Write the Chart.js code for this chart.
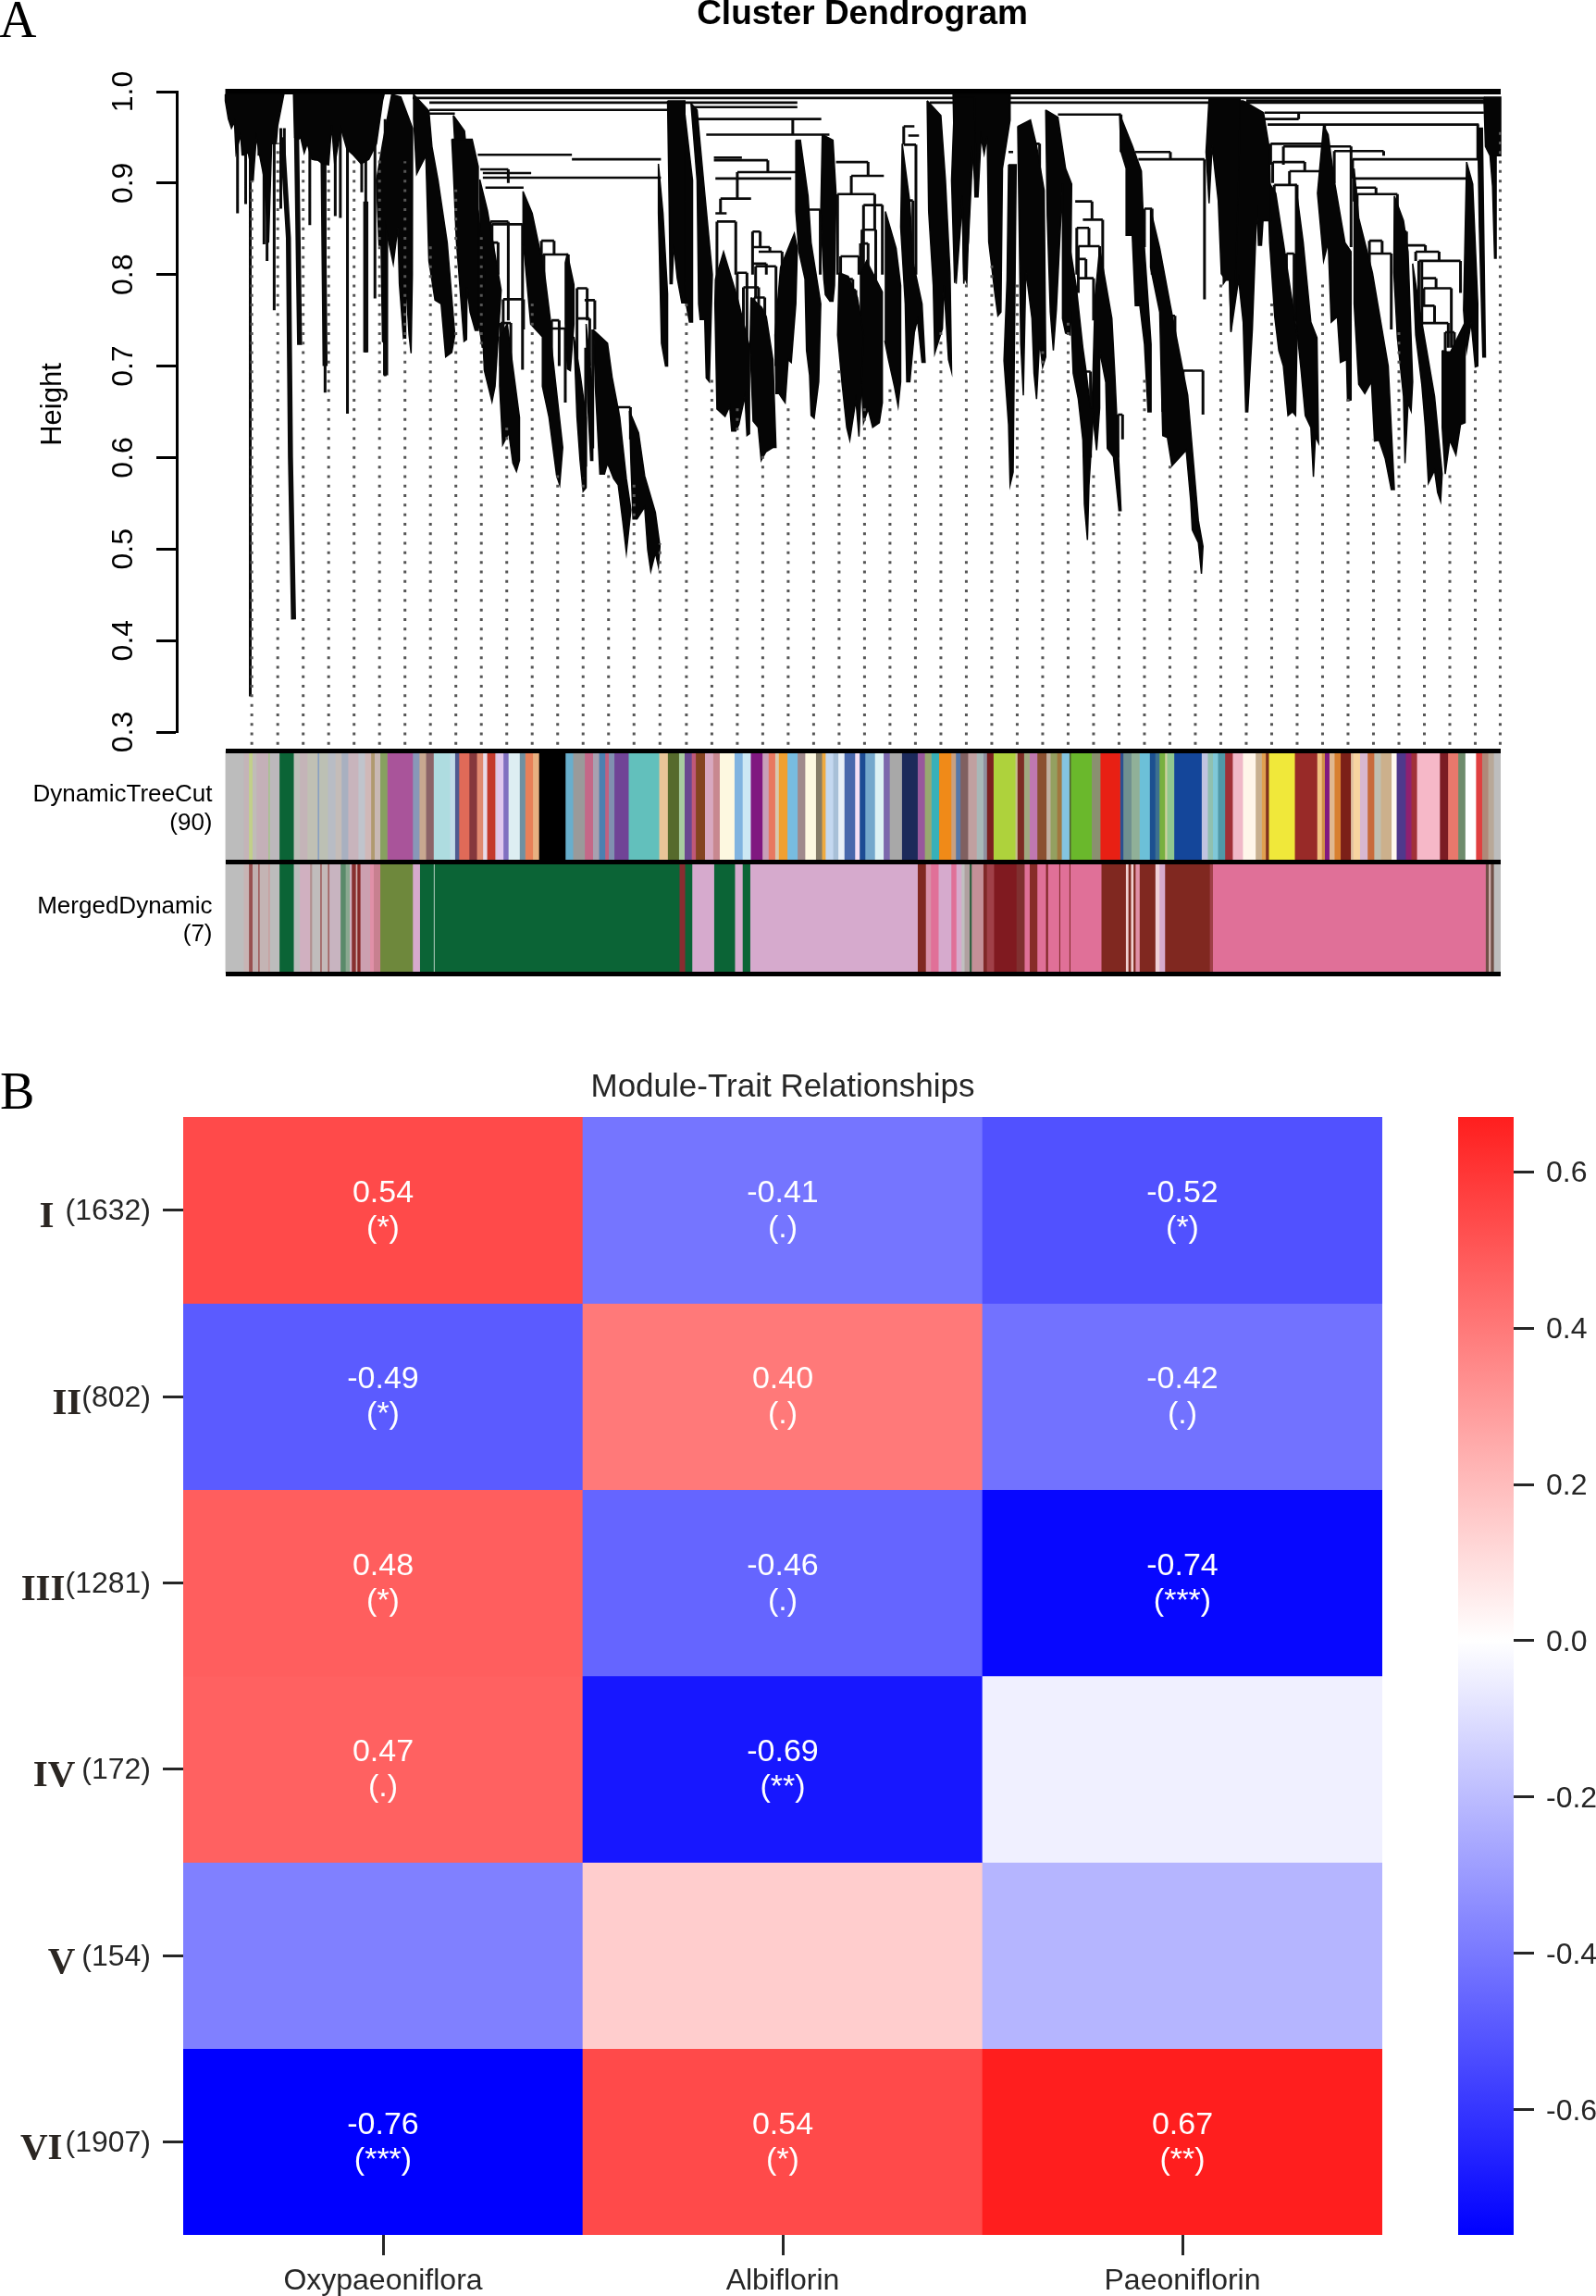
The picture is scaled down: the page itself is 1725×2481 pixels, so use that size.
<!DOCTYPE html>
<html>
<head>
<meta charset="utf-8">
<title>Cluster Dendrogram</title>
<script src="https://cdn.jsdelivr.net/npm/chart.js@4"></script>
<style>
html, body { margin: 0; padding: 0; background: #fff; overflow: hidden; }
#page { position: relative; width: 1725px; height: 2481px; overflow: hidden; }
canvas { position: absolute; }
</style>
</head>
<body>
<div id="page">
  <canvas id="treeChart" style="left:0;top:0"></canvas>
  <canvas id="bandChart" style="left:0;top:751px"></canvas>
  <canvas id="heatChart" style="left:0;top:1154px"></canvas>
  <canvas id="scaleChart" style="left:1500px;top:1154px"></canvas>
</div>
<script>
// dendrogram, x = gene order (0-2506), y = height
const heightTicks = [0.3, 0.4, 0.5, 0.6, 0.7, 0.8, 0.9, 1.0];
const guideX = [52,103,153,203,253,303,353,403,453,503,553,603,653,703,753,803,854,906,956,1006,1056,1106,
  1156,1206,1256,1306,1356,1406,1456,1506,1556,1606,1656,1706,1756,1806,1856,1906,1956,2006,2056,2106,2156,2206,2256,2306,2356,2406,2456,2505];
const guideTop = [.903,.944,.929,.919,.929,.934,.924,.836,.893,.841,.635,.769,.583,.578,.583,.573,.506,.769,.687,.661,.604,.661,
  .635,.697,.661,.676,.712,.738,.79,.81,.795,.718,.748,.583,.542,.687,.594,.48,.795,.65,.774,.635,.795,.666,.62,.738,.573,.583,.702,.96];

// where the leaves pack solid black: outlines of the merged branches, [order, height]
const treeMasses = [
  [[0,.997],[0,.99],[6,.97],[12,.96],[18,.967],[21,.933],[30,.953],[33,.931],[45,.933],[55,.906],[61,.95],[70,.923],[76,.906],[85,.835],[91,.943],[100,.943],[103,.963],[115,.997]],
  [[134,.997],[136,.95],[142,.947],[148,.95],[155,.933],[161,.943],[170,.926],[182,.925],[191,.921],[203,.92],[209,.963],[215,.92],[227,.96],[239,.937],[251,.931],[267,.921],[282,.926],[297,.943],[309,.99],[312,.997]],
  [[327,.997],[345,.994],[368,.96],[367,.835],[368,.80],[365,.714],[361,.734],[354,.80],[354,.734],[350,.731],[342,.79],[339,.852],[330,.812],[315,.852],[315,.724],[309,.727],[306,.832],[302,.832],[297,.903],[309,.943]],
  [[370,.997],[400,.979],[406,.94],[418,.903],[436,.835],[451,.734],[445,.715],[433,.71],[424,.768],[412,.772],[400,.815],[394,.93],[376,.91],[370,.97]],
  [[445,.948],[485,.948],[497,.918],[497,.739],[491,.739],[481,.759],[475,.786],[474,.729],[469,.727],[461,.786],[454,.837],[448,.914]],
  [[448,.974],[470,.957],[479,.903],[497,.869],[509,.802],[505,.72],[500,.74],[485,.76],[470,.85],[455,.90]],
  [[500,.904],[515,.87],[542,.783],[530,.678],[524,.661],[509,.695],[502,.779]],
  [[539,.732],[554,.746],[578,.644],[578,.597],[572,.585],[565,.594],[557,.627],[545,.614],[539,.678]],
  [[585,.891],[603,.867],[627,.803],[639,.749],[639,.732],[663,.611],[657,.570],[651,.580],[636,.644],[623,.678],[623,.732],[600,.746],[586,.833]],
  [[672,.823],[685,.789],[685,.746],[678,.695],[672,.697],[668,.746],[668,.813]],
  [[685,.732],[697,.692],[709,.644],[709,.567],[703,.563],[697,.597],[691,.644]],
  [[709,.746],[721,.678],[722,.597],[718,.597],[712,.661]],
  [[724,.739],[751,.725],[760,.688],[775,.644],[788,.577],[797,.543],[788,.496],[781,.530],[772,.570],[763,.577],[751,.594],[745,.582],[736,.582],[727,.678]],
  [[794,.651],[812,.627],[824,.580],[845,.540],[854,.503],[851,.481],[845,.496],[836,.476],[830,.499],[824,.546],[809,.533],[801,.533],[797,.594]],
  [[851,.921],[860,.867],[869,.779],[869,.700],[865,.700],[857,.725],[851,.867]],
  [[869,.99],[903,.99],[903,.769],[897,.769],[888,.796],[881,.833],[878,.79],[874,.79],[872,.88]],
  [[900,.99],[918,.903],[918,.748],[912,.748],[903,.775],[900,.936]],
  [[915,.987],[927,.98],[933,.943],[942,.889],[957,.80],[951,.683],[945,.687],[942,.751],[933,.751],[930,.768],[927,.903]],
  [[963,.795],[979,.825],[1006,.775],[1030,.721],[1030,.626],[1025,.624],[1021,.667],[1009,.636],[1003,.629],[995,.629],[991,.656],[982,.645],[966,.653],[962,.768]],
  [[1033,.775],[1054,.764],[1063,.754],[1076,.707],[1082,.611],[1076,.611],[1070,.609],[1062,.606],[1053,.597],[1047,.633],[1037,.64],[1031,.724]],
  [[1121,.947],[1130,.947],[1145,.886],[1151,.835],[1170,.768],[1166,.683],[1157,.643],[1151,.646],[1148,.69],[1142,.717],[1139,.795],[1127,.825],[1121,.869]],
  [[1091,.808],[1118,.845],[1124,.829],[1121,.768],[1112,.704],[1106,.707],[1100,.66],[1096,.663],[1088,.67],[1082,.67],[1080,.734]],
  [[1173,.953],[1194,.947],[1200,.889],[1197,.788],[1194,.771],[1188,.771],[1179,.778],[1176,.795],[1170,.869]],
  [[1206,.802],[1224,.798],[1242,.775],[1254,.734],[1245,.623],[1239,.663],[1227,.619],[1221,.633],[1212,.68],[1203,.734]],
  [[1248,.802],[1260,.815],[1291,.781],[1291,.66],[1285,.638],[1272,.633],[1263,.653],[1254,.638],[1248,.70]],
  [[1297,.869],[1318,.829],[1327,.788],[1327,.683],[1322,.656],[1315,.677],[1303,.707],[1296,.727]],
  [[1330,.943],[1345,.879],[1351,.815],[1369,.768],[1375,.704],[1369,.704],[1360,.751],[1354,.737],[1345,.683],[1339,.683],[1336,.768],[1327,.852]],
  [[1379,.99],[1406,.974],[1415,.903],[1424,.802],[1427,.694],[1421,.707],[1412,.788],[1409,.741],[1394,.714],[1391,.788],[1382,.869]],
  [[1433,.994],[1472,.994],[1476,.886],[1466,.94],[1457,.791],[1451,.80],[1448,.886],[1433,.791],[1427,.903]],
  [[1430,.997],[1542,.997],[1542,.969],[1527,.916],[1524,.759],[1518,.755],[1512,.78],[1500,.836],[1497,.951],[1491,.932],[1485,.95],[1479,.885],[1473,.885],[1470,.948],[1460,.836],[1451,.79],[1448,.878],[1436,.79],[1433,.916]],
  [[1539,.92],[1554,.92],[1548,.584],[1542,.57],[1539,.636],[1530,.706],[1536,.794]],
  [[1557,.962],[1582,.969],[1594,.941],[1609,.892],[1612,.71],[1606,.699],[1600,.727],[1594,.664],[1589,.692],[1585,.752],[1573,.804],[1568,.668],[1563,.724],[1560,.846]],
  [[1612,.98],[1636,.972],[1651,.916],[1663,.899],[1660,.734],[1651,.736],[1645,.752],[1645,.899],[1633,.762],[1627,.717],[1621,.759],[1615,.864]],
  [[1660,.829],[1672,.787],[1685,.72],[1691,.696],[1700,.654],[1706,.65],[1697,.57],[1694,.51],[1688,.549],[1685,.619],[1676,.664],[1666,.692],[1660,.776]],
  [[1718,.829],[1742,.752],[1748,.689],[1760,.542],[1756,.542],[1745,.601],[1733,.61],[1730,.682],[1718,.717],[1718,.654],[1712,.608],[1703,.654],[1709,.776]],
  [[1757,.976],[1782,.941],[1800,.913],[1806,.829],[1819,.724],[1819,.65],[1813,.65],[1806,.724],[1797,.766],[1788,.766],[1782,.843],[1770,.843],[1770,.916],[1760,.934]],
  [[1818,.871],[1836,.829],[1857,.766],[1891,.668],[1912,.531],[1921,.503],[1918,.473],[1912,.507],[1900,.521],[1897,.552],[1888,.608],[1860,.591],[1851,.622],[1842,.624],[1839,.689],[1836,.759],[1818,.808]],
  [[1933,.993],[1994,.993],[1991,.899],[1985,.794],[1976,.738],[1973,.794],[1966,.794],[1957,.801],[1951,.881],[1939,.941],[1933,.878],[1927,.934]],
  [[1958,.99],[2000,.99],[2040,.977],[2052,.936],[2054,.859],[2039,.859],[2036,.832],[2030,.832],[2027,.876],[2018,.74],[2009,.65],[2005,.65],[2000,.748],[1991,.795],[1976,.737],[1973,.8],[1961,.79]],
  [[2048,.903],[2064,.889],[2079,.835],[2106,.734],[2103,.646],[2097,.65],[2088,.646],[2079,.70],[2070,.717],[2062,.754],[2052,.835]],
  [[2103,.899],[2118,.835],[2133,.748],[2145,.731],[2148,.616],[2142,.623],[2138,.579],[2133,.633],[2122,.646],[2114,.694],[2103,.754]],
  [[2158,.963],[2167,.953],[2179,.903],[2200,.835],[2212,.825],[2212,.663],[2205,.662],[2203,.707],[2191,.704],[2185,.754],[2173,.748],[2167,.835],[2158,.815],[2146,.889]],
  [[2218,.916],[2227,.862],[2254,.802],[2285,.70],[2297,.565],[2291,.565],[2279,.599],[2267,.619],[2258,.618],[2252,.683],[2239,.67],[2227,.68],[2218,.768]],
  [[2297,.886],[2315,.859],[2324,.825],[2333,.683],[2330,.651],[2324,.66],[2318,.594],[2315,.667],[2303,.731],[2296,.802]],
  [[2333,.812],[2345,.768],[2376,.667],[2391,.582],[2388,.552],[2382,.562],[2376,.586],[2364,.572],[2358,.633],[2351,.68],[2339,.734]],
  [[2391,.717],[2406,.714],[2436,.748],[2436,.638],[2427,.636],[2418,.603],[2406,.619],[2397,.582],[2391,.633]],
  [[2439,.923],[2451,.899],[2461,.768],[2461,.70],[2456,.699],[2448,.748],[2439,.717],[2433,.761]],
  [[2461,.96],[2470,.96],[2476,.71],[2471,.71],[2464,.852]],
  [[2473,.994],[2506,.994],[2506,.93],[2497,.93],[2497,.818],[2494,.818],[2490,.896],[2485,.93],[2476,.94]]
];

// single branches and verticals that stand clear, [order, top, bottom]
const treeDrops = [
  [24,.98,.867],[36,.98,.93],[40,.98,.877],[49,.97,.339],[53,.98,.903],[66,.97,.93],[76,.96,.833],[82,.96,.815],
  [96,.96,.761],[109,.96,.872],[116,.96,.925],[166,.97,.854],[176,.97,.925],[196,.96,.671],[216,.96,.864],[226,.96,.862],[240,.96,.648],[268,.97,.89],[276,.96,.715],
  [294,.96,.774],[314,.97,.689],[346,.97,.79],[353,.96,.73],
  [524,.855,.83],[584,.855,.696],[556,.915,.90],[646,.837,.822],[674,.822,.75],[626,.822,.75],[711,.785,.75],[708,.72,.59],[722,.74,.61],[741,.72,.585],[754,.70,.59],
  [546,.773,.73],[561,.747,.62],[641,.75,.68],[668,.741,.66],
  [521,.858,.84],[556,.858,.75],[526,.835,.80],[536,.835,.80],[586,.773,.74],[541,.747,.70],[621,.837,.80],[691,.785,.70],[726,.772,.74],[691,.752,.70],[716,.752,.70],[656,.75,.70],[771,.655,.62],[796,.655,.62],
  [1115,.97,.953],[1066,.925,.912],[1006,.912,.883],[973,.883,.867],[1003,.858,.80],[966,.858,.79],[1263,.923,.908],[1230,.908,.888],[1333,.962,.942],[1357,.942,.80],[1254,.876,.80],[1291,.876,.80],[1276,.888,.849],[1203,.888,.80],
  [1036,.847,.80],[1051,.847,.83],[1070,.83,.825],[1094,.825,.808],[1063,.812,.80],[1082,.809,.70],[1042,.809,.775],[1060,.775,.74],[1039,.775,.72],
  [1018,.786,.70],[1048,.786,.72],[1025,.802,.72],[1006,.802,.72],[1251,.849,.80],[1278,.849,.78],[1248,.834,.80],[1263,.834,.80],[1209,.82,.80],[1245,.82,.80],[1218,.795,.75],[1233,.795,.75],[1227,.783,.72],[1239,.783,.72],[1336,.881,.80],[1351,.881,.81],[1145,.871,.80],[1169,.871,.80],
  [1760,.975,.934],[1857,.934,.926],[1924,.926,.773],[1703,.88,.86],[1724,.86,.78],[1697,.851,.831],[1691,.817,.796],[1706,.796,.75],[1921,.695,.647],[1763,.647,.62],
  [1673,.851,.80],[1676,.831,.78],[1718,.831,.80],[1688,.694,.60],[1700,.694,.60],[1754,.647,.60],[1842,.755,.65],[1866,.755,.70],[1882,.695,.66],[1806,.872,.83],[1821,.872,.80],[1585,.943,.90],[1600,.943,.90],
  [2109,.977,.97],[2160,.964,.943],[2276,.935,.93],[2121,.923,.913],[2091,.913,.898],[2261,.895,.888],[2385,.825,.815],[2427,.815,.78],[2379,.796,.785],[2409,.785,.72],[2376,.766,.747],[2461,.964,.926],[2303,.888,.83],[2351,.815,.745],
  [2248,.837,.76],[2273,.837,.823],[2291,.823,.74],[2315,.832,.80],[2358,.832,.825],[2339,.825,.815],[2345,.815,.72],[2355,.785,.766],[2403,.747,.72],[2394,.715,.67],[2397,.737,.70],[2415,.737,.70],[2309,.847,.83],[2321,.847,.83],
  [2085,.823,.75],[2100,.823,.75],[2061,.898,.84],[2106,.898,.75],[2058,.923,.90],[2221,.895,.888],[2224,.888,.80],[2215,.926,.905],[2218,.905,.88],[2054,.943,.92],[2158,.943,.89],[2079,.94,.92],[2212,.94,.83],[2179,.935,.90]
];

// merges, [left order, right order, height]
const treeBridges = [
  [368,2474,.993],[401,871,.988],[401,871,.98],[401,451,.976],[896,1124,.988],[916,1124,.983],
  [496,681,.931],[681,856,.926],[506,601,.911],[501,556,.915],[506,856,.906],[511,586,.895],
  [521,556,.858],[524,584,.855],[526,536,.835],[546,586,.773],[541,561,.747],
  [621,646,.837],[624,674,.822],[691,711,.785],[706,726,.772],[691,716,.752],[641,656,.75],[641,668,.741],[771,796,.655],
  [927,1171,.97],[945,1187,.953],[960,1015,.928],[960,1066,.925],[1006,1124,.912],[963,1112,.905],[973,1033,.883],[963,985,.867],[966,1003,.858],[1006,1025,.802],[1018,1048,.786],
  [1036,1051,.847],[1036,1070,.83],[1048,1094,.825],[1036,1063,.812],[1042,1082,.809],[1039,1060,.775],
  [1200,1263,.923],[1230,1294,.908],[1203,1276,.888],[1254,1291,.876],[1251,1278,.849],[1248,1263,.834],[1209,1245,.82],[1218,1233,.795],[1227,1239,.783],
  [1333,1357,.942],[1342,1363,.952],[1333,1354,.962],[1336,1351,.881],[1145,1169,.871],
  [1384,2474,.988],[1636,1760,.975],[1788,1857,.934],[1794,1924,.926],[1670,1703,.88],[1685,1724,.86],[1673,1697,.851],[1676,1718,.831],[1676,1691,.817],[1676,1706,.796],
  [1539,1548,.934],[1585,1600,.943],[1806,1821,.872],[1842,1866,.755],[1882,1921,.695],[1688,1700,.694],[1754,1763,.647],
  [2006,2473,.99],[2042,2473,.977],[2042,2109,.97],[2048,2463,.964],[2054,2158,.943],[2079,2212,.94],[2179,2276,.935],[2215,2461,.926],[2058,2121,.923],[2091,2151,.913],[2061,2106,.898],[2218,2448,.905],[2221,2261,.895],[2224,2303,.888],
  [2309,2321,.847],[2315,2358,.832],[2339,2385,.825],[2345,2427,.815],[2351,2379,.796],[2355,2409,.785],[2351,2376,.766],[2351,2403,.747],[2248,2291,.823],[2248,2273,.837],[2085,2100,.823],[2394,2409,.715],[2397,2415,.737]
];

// long heavy branches on the left of the tree
const treeHeavy = [
  [[112,.95],[124,.84],[128,.6],[134,.423]],[[140,.95],[146,.723]],[[192,.93],[196,.70]],[[276,.88],[276,.715]],[[315,.88],[315,.69]]
];

// module colour bands: where each run ends in gene order, and its colour
const bandLabels = [['DynamicTreeCut', '(90)'], ['MergedDynamic', '(7)']];
const treecutEnds = [36,46,53,61,84,87,106,134,146,161,181,184,201,216,228,241,261,274,286,293,304,318,368,381,394,409,441,451,459,479,
  494,506,514,530,534,546,556,578,589,604,616,668,683,706,722,734,746,753,764,792,852,869,891,902,916,924,942,958,971,1000,
  1016,1032,1055,1067,1080,1087,1104,1124,1139,1160,1172,1179,1194,1204,1216,1237,1246,1257,1276,1293,1305,1329,1360,1374,1387,1402,1426,1435,1444,1459,
  1476,1489,1496,1509,1552,1556,1569,1580,1595,1613,1621,1634,1643,1658,1661,1702,1719,1758,1764,1780,1796,1816,1827,1835,1846,1850,1864,1918,1930,1940,
  1950,1964,1979,1999,2024,2036,2044,2050,2101,2145,2154,2160,2169,2179,2191,2211,2216,2229,2244,2257,2270,2291,2301,2319,2330,2341,2386,2402,2422,2436,
  2457,2469,2481,2492,2506];
const treecutColors = ['#bcbcbc','#c4b4b8','#c2d08a','#c0bcb8','#c4b0b8','#a8c090','#bcb8bc','#0b6436','#bdbfb8','#c4b4b8','#c0c0b4','#8aa0c0','#bcc0b4','#b8bcc4','#c4bcb8','#a8b0c0','#c8b4bc','#c0c4cc','#d0b8b8','#b09a70','#c8b8b4','#87a060','#a9549a','#8898b8','#c8a890','#8c6468','#aedce0','#c0dce8','#505a90','#e06a58',
  '#85383c','#e08a70','#e8dce8','#c43a2c','#d8c8e0','#e0c8ee','#8070c0','#ddeef2','#7090a0','#e88058','#e8b080','#000000','#68aecc','#9a9a9a','#c46888','#a8a0b0','#4c80b0','#c06080','#8090b0','#704496','#62c0bc','#e8c498','#566a2c','#a8cca0','#6a4890','#c05878','#844420','#d8a8c0','#c88890','#fdf8e0',
  '#80b4e0','#cce8f4','#801880','#c8a0b8','#e87860','#d8c8b0','#f0a030','#78bce0','#a08a8c','#fdf8e0','#857c68','#eeaa40','#c4d8f0','#a8c0d8','#e8f0f8','#4868ac','#f4e0f4','#1c4c94','#74a8cc','#ddf2f4','#7c68ac','#a8a8a8','#1c2a5a','#98589c','#98a870','#38b0b8','#f08a18','#c8a080','#5878a8','#806060',
  '#c0a0a0','#a8b8b8','#9090a0','#7c2020','#aed23c','#c8c090','#7c2c24','#a0a880','#c078b0','#8a5030','#c0b0a0','#94a060','#a07840','#84c4e0','#506030','#6ab82c','#8a9070','#e82014','#2c5090','#709090','#90b098','#6cc0d8','#1c5090','#3c7090','#78b040','#d0d0a0','#90c890','#14469a','#c0c4e0','#90c0b0',
  '#80c8d8','#5098a8','#a03038','#f0b8c8','#fff6ea','#c8b090','#e0a050','#803020','#f0e83a','#982a28','#f0c080','#d09048','#801a80','#e0b890','#d88030','#7c2018','#e0c0a0','#f8d4a0','#d8b8d0','#c86c3c','#c0c0b0','#ccb08c','#fff8f0','#50388c','#902070','#a03038','#f6b8c8','#7c1c24','#e8786c','#6e8c6c',
  '#ffffff','#e04040','#b08878','#b8a898','#bdbdbd'];
const mergedEnds = [36,46,53,64,67,84,87,106,134,146,166,170,186,189,201,204,226,236,244,248,256,259,265,284,291,304,368,382,409,411,
  892,903,917,960,1001,1016,1031,1360,1376,1386,1401,1426,1436,1446,1452,1462,1466,1489,1496,1510,1554,1570,1580,1595,1612,1616,1638,1640,1658,1660,
  1721,1769,1774,1779,1784,1788,1796,1827,1835,1846,1934,1940,2476,2482,2486,2492,2506];
const mergedColors = ['#bdbdbd','#c8b4b4','#985050','#c0b0b0','#a06060','#c4b4b4','#c8a0a0','#bcbcbc','#0b6436','#bcbcbc','#d0b0c0','#b09090','#c0bcbc','#a06060','#c4b8b8','#a06060','#c8b4c0','#5a8a6a','#8aa890','#d0b0c0','#883030','#d0b0b0','#882828','#cca0b0','#e090a8','#c88090','#6e883c','#d6aacd','#0b6436','#a0c0b0',
  '#0b6436','#882c30','#0b6436','#d6aacd','#0b6436','#d6aacd','#0b6436','#d6aacd','#802820','#d890a8','#e07098','#d6aacd','#e07098','#d6aacd','#c0c0c0','#b0a0a0','#306040','#c49098','#802828','#a04048','#801a20','#803030','#e07098','#882c28','#e07098','#802828','#e07098','#802828','#e07098','#802828',
  '#e07098','#802820','#f0d0d0','#802820','#f0d0d0','#802820','#e090a8','#802820','#f0d0d8','#d6aacd','#802820','#a04048','#e07098','#705048','#d0b0b0','#705048','#bdbdbd'];

// module-trait heatmap
const traits = ['Oxypaeoniflora', 'Albiflorin', 'Paeoniflorin'];
const moduleNames = ['I', 'II', 'III', 'IV', 'V', 'VI'];
const moduleSizes = ['(1632)', '(802)', '(1281)', '(172)', '(154)', '(1907)'];
const corrOxy = [0.54, -0.49, 0.48, 0.47, -0.38, -0.76];
const corrAlb = [-0.41, 0.40, -0.46, -0.69, 0.15, 0.54];
const corrPae = [-0.52, -0.42, -0.74, -0.045, -0.22, 0.67];
const sigOxy = ['*', '*', '*', '.', '', '***'];
const sigAlb = ['.', '.', '.', '**', '', '*'];
const sigPae = ['*', '.', '***', '', '', '**'];
const scaleTicks = [-0.6, -0.4, -0.2, 0.0, 0.2, 0.4, 0.6];
const scaleMin = -0.76, scaleMax = 0.67;

const INK = '#262626';

function bwr(v) {
  const t = Math.min(1, Math.abs(v) / 0.76);
  const o = Math.round(255 * (1 - t));
  return v >= 0 ? `rgb(255,${o},${o})` : `rgb(${o},${o},255)`;
}

// turn pieces into one path with gaps between them
function withGaps(pieces) {
  const pts = [];
  pieces.forEach(p => {
    p.forEach(q => pts.push({ x: q[0], y: q[1] }));
    pts.push({ x: p[p.length - 1][0], y: null });
  });
  return pts;
}

function lineSet(data, width, color, extra) {
  return Object.assign({ data: data, showLine: true, pointRadius: 0, borderWidth: width, borderColor: color, spanGaps: false, clip: false, borderCapStyle: 'butt', borderJoinStyle: 'miter' }, extra || {});
}

// free text on a chart: captions, panel letters
const captionPlugin = {
  id: 'captions',
  afterDraw(chart) {
    const list = chart.options.plugins.captions.items || [];
    const ctx = chart.ctx;
    list.forEach(c => {
      ctx.save();
      ctx.translate(c.x, c.y);
      if (c.turn) ctx.rotate(-Math.PI / 2);
      ctx.font = c.font;
      ctx.fillStyle = c.color;
      ctx.textAlign = c.align || 'center';
      ctx.textBaseline = c.baseline || 'middle';
      ctx.fillText(c.text, 0, 0);
      ctx.restore();
    });
  }
};
Chart.register(captionPlugin);
Chart.defaults.font.family = '"Liberation Sans", Arial, sans-serif';
Chart.defaults.animation = false;
Chart.defaults.plugins.legend.display = false;
Chart.defaults.plugins.tooltip.enabled = false;

function sizeCanvas(id, w, h) {
  const c = document.getElementById(id);
  c.width = w; c.height = h;
  c.style.width = w + 'px'; c.style.height = h + 'px';
  return c;
}

// ---- Panel A: dendrogram
const guidePieces = guideX.map((x, i) => [[x, 0.286], [x, guideTop[i]]]);
const dropPieces = treeDrops.map(d => [[d[0], d[1]], [d[0], d[2]]]);
const bridgePieces = treeBridges.map(b => [[b[0], b[2]], [b[1], b[2]]]);

const treeSets = [lineSet(withGaps(guidePieces), 3, '#555', { borderDash: [3, 7.3] })];
treeMasses.forEach(m => {
  treeSets.push(lineSet(m.concat([m[0]]).map(p => ({ x: p[0], y: p[1] })), 1.5, '#050505', { fill: 'shape', backgroundColor: '#050505' }));
});
treeSets.push(lineSet(withGaps(dropPieces), 3, '#0a0a0a'));
treeSets.push(lineSet(withGaps(bridgePieces), 2.6, '#0a0a0a'));
treeSets.push(lineSet(withGaps(treeHeavy), 5.5, '#0a0a0a'));
treeSets.push(lineSet(withGaps([[[0, 1.0], [2506, 1.0]]]), 6, '#000'));

new Chart(sizeCanvas('treeChart', 1725, 851), {
  type: 'scatter',
  data: { datasets: treeSets },
  options: {
    responsive: false,
    layout: { autoPadding: false, padding: { top: 99, right: 103, bottom: 60, left: 0 } },
    plugins: {
      captions: { items: [
        { text: 'Cluster Dendrogram', font: 'bold 37px "Liberation Sans"', color: '#000', x: 932, y: 16 },
        { text: 'Height', font: '31px "Liberation Sans"', color: '#000', x: 57, y: 437, turn: true },
        { text: 'A', font: '56px "Liberation Serif"', color: '#000', x: -1, y: 40, align: 'left', baseline: 'alphabetic' }
      ] }
    },
    scales: {
      x: { type: 'linear', display: false, min: -95.5, max: 2506 },
      y: {
        type: 'linear', min: 0.3, max: 1.0,
        afterFit(s) { s.width = 191; },
        afterBuildTicks(s) { s.ticks = heightTicks.map(v => ({ value: v })); },
        border: { color: '#000', width: 3 },
        grid: { drawOnChartArea: false, tickLength: 22, tickColor: '#000', tickWidth: 3 },
        ticks: {
          color: '#000', font: { size: 32 }, minRotation: 90, maxRotation: 90, crossAlign: 'center', padding: 13, autoSkip: false,
          callback: v => v.toFixed(1)
        }
      }
    }
  }
});

// ---- Panel A: module colour bands, one floating bar per run
function runSets(ends, colors, row) {
  return ends.map((end, i) => {
    const span = [i === 0 ? 0 : ends[i - 1], end];
    return { data: row === 0 ? [span, null] : [null, span], backgroundColor: colors[i], borderWidth: 0 };
  });
}

new Chart(sizeCanvas('bandChart', 1725, 361), {
  type: 'bar',
  data: { labels: bandLabels, datasets: runSets(treecutEnds, treecutColors, 0).concat(runSets(mergedEnds, mergedColors, 1)) },
  options: {
    responsive: false,
    indexAxis: 'y',
    grouped: false,
    barPercentage: 1,
    categoryPercentage: 1,
    layout: { autoPadding: false, padding: { top: 60, right: 103, bottom: 60, left: 0 } },
    plugins: { captions: { items: [] } },
    scales: {
      x: { type: 'linear', display: false, min: 0, max: 2506 },
      y: {
        afterFit(s) { s.width = 243.5; },
        border: { display: false },
        grid: { offset: true, color: '#000', lineWidth: 5, drawTicks: false, z: 1 },
        ticks: { color: '#000', font: { size: 26, lineHeight: 1.17 }, padding: 14, autoSkip: false, labelOffset: 3 }
      }
    }
  }
});

// ---- Panel B: heatmap, each cell a floating bar
const traitCols = [corrOxy, corrAlb, corrPae];
const traitSigs = [sigOxy, sigAlb, sigPae];
const romanGap = [12, 0, 0, 7, 7, 3];

const cellTextPlugin = {
  id: 'cellText',
  afterDatasetsDraw(chart) {
    const ctx = chart.ctx;
    ctx.save();
    ctx.fillStyle = '#fff';
    ctx.textAlign = 'center';
    ctx.textBaseline = 'middle';
    ctx.font = '34px "Liberation Sans"';
    chart.data.datasets.forEach((ds, r) => {
      chart.getDatasetMeta(r).data.forEach((el, c) => {
        if (!traitSigs[c][r]) return;
        const y = (el.y + el.base) / 2;
        ctx.fillText(traitCols[c][r].toFixed(2), el.x, y - 18);
        ctx.fillText('(' + traitSigs[c][r] + ')', el.x, y + 20);
      });
    });
    ctx.restore();
  },
  afterDraw(chart) {
    // roman module number in front of each size label
    const ctx = chart.ctx;
    const s = chart.scales.y;
    ctx.save();
    ctx.textAlign = 'right';
    ctx.textBaseline = 'middle';
    moduleNames.forEach((name, i) => {
      ctx.font = '32px "Liberation Sans"';
      const w = ctx.measureText(moduleSizes[i]).width;
      ctx.font = 'bold 41px "Liberation Serif"';
      ctx.fillStyle = '#2b2622';
      ctx.fillText(name, 163 - w - romanGap[i], s.getPixelForValue(i + 0.5) + 8);
    });
    ctx.restore();
  }
};

new Chart(sizeCanvas('heatChart', 1500, 1327), {
  type: 'bar',
  plugins: [cellTextPlugin],
  data: {
    labels: traits,
    datasets: moduleNames.map((name, r) => ({
      data: traits.map(() => [r, r + 1]),
      backgroundColor: traitCols.map(col => bwr(col[r])),
      borderWidth: 0
    }))
  },
  options: {
    responsive: false,
    grouped: false,
    barPercentage: 1,
    categoryPercentage: 1,
    layout: { autoPadding: false, padding: { top: 53, right: 6, bottom: 0, left: 0 } },
    plugins: {
      captions: { items: [
        { text: 'Module-Trait Relationships', font: '35px "Liberation Sans"', color: INK, x: 846, y: 21 },
        { text: 'B', font: '56px "Liberation Serif"', color: '#000', x: 0, y: 44, align: 'left', baseline: 'alphabetic' }
      ] }
    },
    scales: {
      x: {
        afterFit(s) { s.height = 66; },
        border: { display: false },
        grid: { offset: false, drawOnChartArea: false, tickLength: 22, tickColor: INK, tickWidth: 3 },
        ticks: { color: INK, font: { size: 32 }, padding: 9, maxRotation: 0, autoSkip: false }
      },
      y: {
        type: 'linear', min: 0, max: 6, reverse: true,
        afterFit(s) { s.width = 198; },
        afterBuildTicks(s) { s.ticks = moduleSizes.map((m, i) => ({ value: i + 0.5 })); },
        border: { display: false },
        grid: { drawOnChartArea: false, tickLength: 22, tickColor: INK, tickWidth: 3 },
        ticks: { color: INK, font: { size: 32 }, padding: 13, autoSkip: false, labelOffset: 2, callback: (v, i) => moduleSizes[i] }
      }
    }
  }
});

// ---- Panel B: colour scale, one bar from min to max with a gradient fill
new Chart(sizeCanvas('scaleChart', 225, 1327), {
  type: 'bar',
  data: {
    labels: [''],
    datasets: [{
      data: [[scaleMin, scaleMax]],
      borderWidth: 0,
      backgroundColor(c) {
        const area = c.chart.chartArea;
        if (!area) return '#fff';
        const g = c.chart.ctx.createLinearGradient(0, area.top, 0, area.bottom);
        g.addColorStop(0, bwr(scaleMax));
        g.addColorStop(scaleMax / (scaleMax - scaleMin), '#fff');
        g.addColorStop(1, bwr(scaleMin));
        return g;
      }
    }]
  },
  options: {
    responsive: false,
    barPercentage: 1,
    categoryPercentage: 1,
    layout: { autoPadding: false, padding: { top: 53, right: 0, bottom: 66, left: 76 } },
    plugins: { captions: { items: [] } },
    scales: {
      x: { display: false },
      y: {
        type: 'linear', position: 'right', min: scaleMin, max: scaleMax,
        afterFit(s) { s.width = 89; },
        afterBuildTicks(s) { s.ticks = scaleTicks.map(v => ({ value: v })); },
        border: { display: false },
        grid: { drawOnChartArea: false, tickLength: 22, tickColor: INK, tickWidth: 3 },
        ticks: { color: INK, font: { size: 32 }, padding: 13, autoSkip: false, labelOffset: 2, callback: v => v.toFixed(1) }
      }
    }
  }
});
</script>
</body>
</html>
